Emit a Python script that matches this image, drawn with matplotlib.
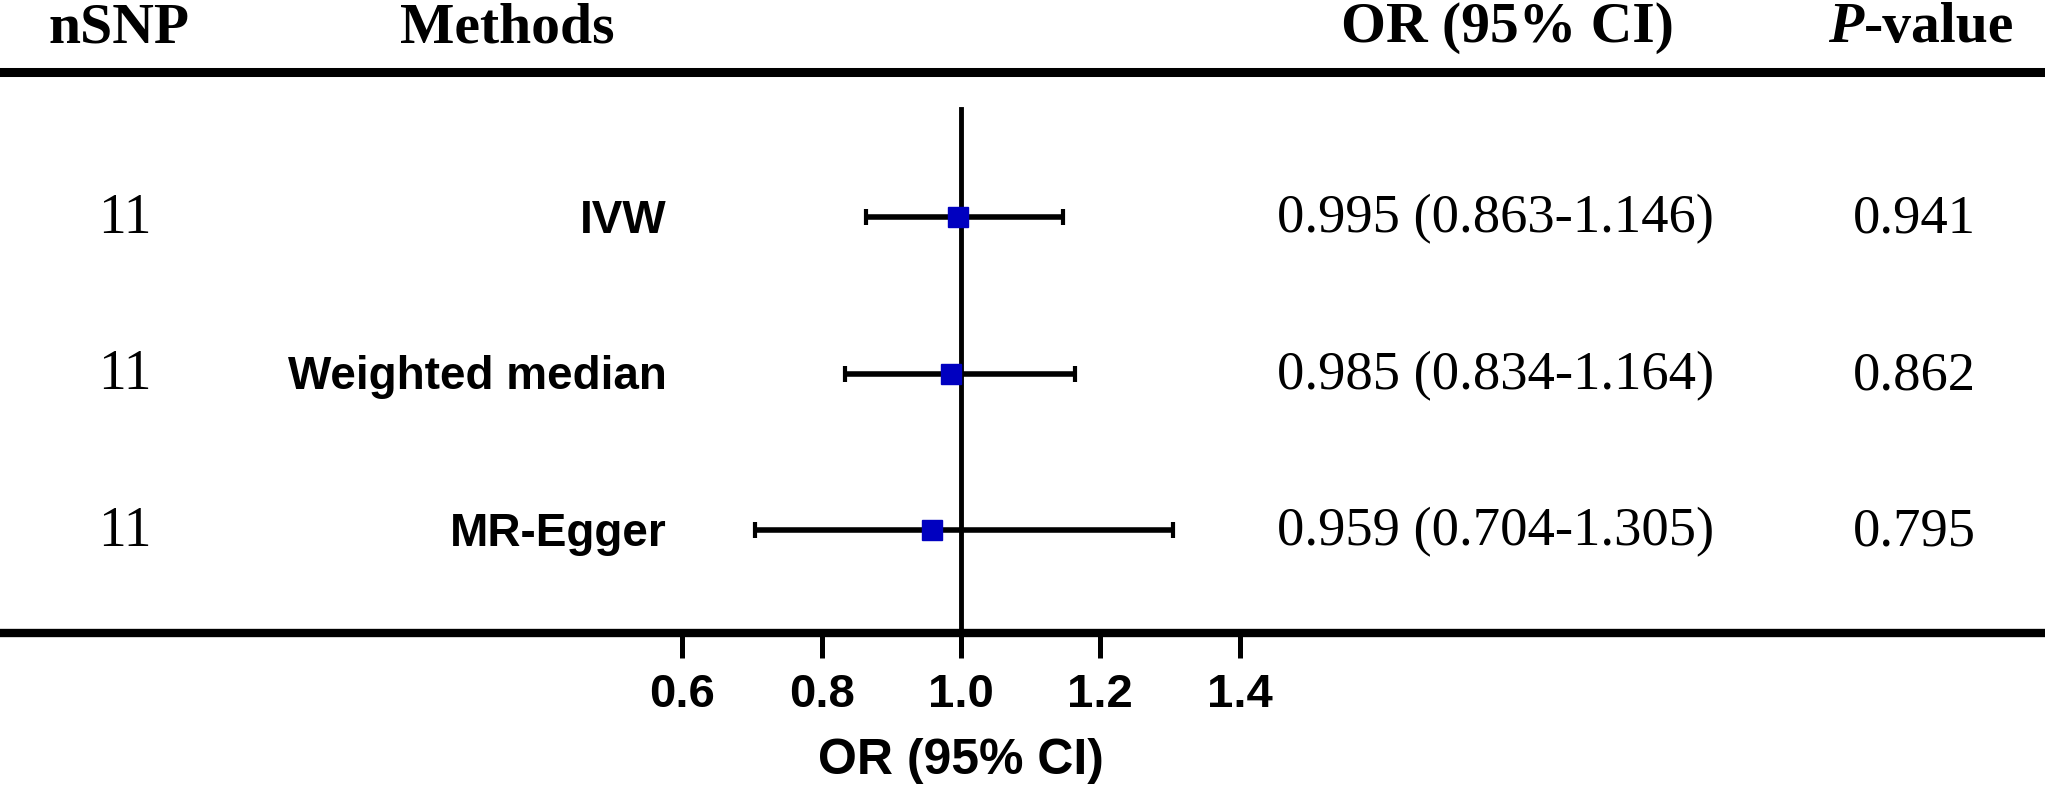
import matplotlib
matplotlib.use("Agg")
import matplotlib.pyplot as plt

# MR results
methods = ["IVW", "Weighted median", "MR-Egger"]
nsnp = [11, 11, 11]
or_vals = [0.995, 0.985, 0.959]
ci_low = [0.863, 0.834, 0.704]
ci_high = [1.146, 1.164, 1.305]
p_vals = [0.941, 0.862, 0.795]
xticks = [0.6, 0.8, 1.0, 1.2, 1.4]

serif = "Liberation Serif"
sans = "Liberation Sans"

fig = plt.figure(figsize=(20.45, 7.95), dpi=100)
ax = fig.add_axes([0, 0.2038, 1, 0.7962])

rows = list(range(len(methods)))
xerr = [[o - l for o, l in zip(or_vals, ci_low)],
        [h - o for o, h in zip(or_vals, ci_high)]]

# reference line at OR = 1 (behind the markers)
ax.plot([1.0, 1.0], [-0.69, 2.66], color="black", lw=3.5, zorder=1)

ax.errorbar(or_vals, rows, xerr=xerr, fmt="none", ecolor="black",
            elinewidth=4, capsize=6, capthick=3, zorder=2)
ax.plot(or_vals, rows, "s", color="#0000C0", markersize=14, zorder=3)

ax.set_xlim(-0.3798, 2.5564)
ax.set_ylim(2.658, -1.387)

# thick line under header
ax.axhline(-0.927, color="black", lw=6.5, clip_on=False)

for s in ["top", "left", "right"]:
    ax.spines[s].set_visible(False)
ax.spines["bottom"].set_linewidth(6)
ax.set_yticks([])
ax.set_xticks(xticks)
ax.set_xticklabels([f"{t:.1f}" for t in xticks], fontfamily=sans,
                   fontweight="bold", fontsize=34)
ax.tick_params(axis="x", direction="out", length=18, width=3.6, pad=11)
ax.set_xlabel("OR (95% CI)", fontfamily=sans, fontweight="bold",
              fontsize=36)
ax.xaxis.set_label_coords(0.47, -0.166)

tr = ax.get_yaxis_transform()
head_y = -1.118
hkw = dict(transform=tr, fontfamily=serif, fontweight="bold", fontsize=41.5,
           va="baseline", clip_on=False)
ax.text(0.058, head_y, "nSNP", ha="center", **hkw)
ax.text(0.248, head_y, "Methods", ha="center", **hkw)
ax.text(0.737, head_y, "OR (95% CI)", ha="center", **hkw)
tp = ax.text(0.894, head_y, "P", ha="left", style="italic", **hkw)
ax.annotate("-value", xy=(1, 0), xycoords=tp, ha="left", va="bottom",
            fontfamily=serif, fontweight="bold", fontsize=41.5)

for i in rows:
    yb = i + 0.1
    ax.text(0.0611, yb, str(nsnp[i]), transform=tr, ha="center",
            va="baseline", fontfamily=serif, fontsize=40)
    ax.text(0.326, yb, methods[i], transform=tr, ha="right", va="baseline",
            fontfamily=sans, fontweight="bold", fontsize=33)
    ci_txt = f"{or_vals[i]:.3f} ({ci_low[i]:.3f}-{ci_high[i]:.3f})"
    ax.text(0.7315, yb, ci_txt, transform=tr, ha="center", va="baseline",
            fontfamily=serif, fontsize=39.3)
    ax.text(0.936, yb, f"{p_vals[i]:.3f}", transform=tr, ha="center",
            va="baseline", fontfamily=serif, fontsize=39.3)

fig.savefig("out.png", dpi=100)
